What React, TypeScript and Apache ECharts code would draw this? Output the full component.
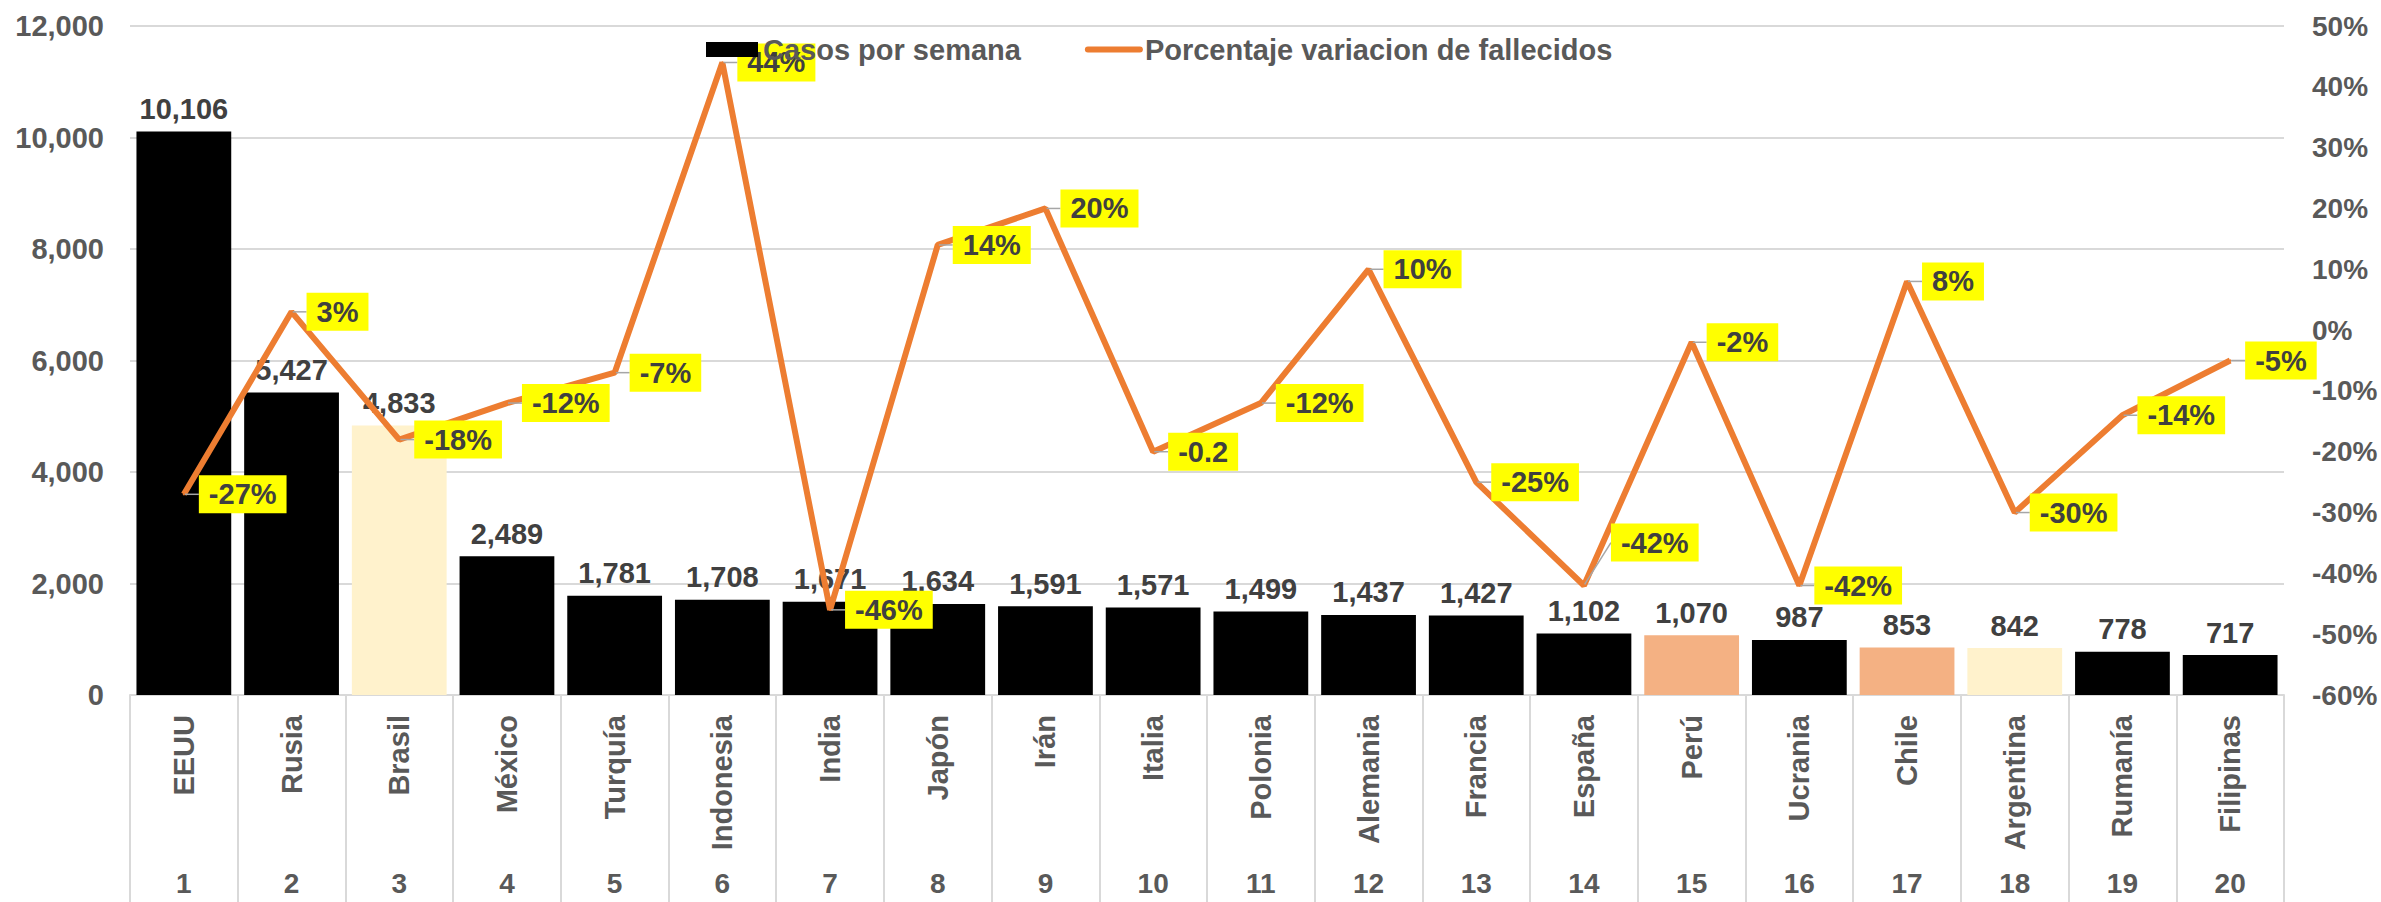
import React, { useEffect, useRef } from "react";
import * as echarts from "echarts";

const countries = ["EEUU", "Rusia", "Brasil", "México", "Turquía", "Indonesia", "India", "Japón", "Irán", "Italia", "Polonia", "Alemania", "Francia", "España", "Perú", "Ucrania", "Chile", "Argentina", "Rumanía", "Filipinas"];
const ranks = ["1", "2", "3", "4", "5", "6", "7", "8", "9", "10", "11", "12", "13", "14", "15", "16", "17", "18", "19", "20"];
const casosPorSemana = [10106, 5427, 4833, 2489, 1781, 1708, 1671, 1634, 1591, 1571, 1499, 1437, 1427, 1102, 1070, 987, 853, 842, 778, 717];
const variacionFallecidos = [-27, 3, -18, -12, -7, 44, -46, 14, 20, -20, -12, 10, -25, -42, -2, -42, 8, -30, -14, -5];
const variacionLabels = ["-27%", "3%", "-18%", "-12%", "-7%", "44%", "-46%", "14%", "20%", "-0.2", "-12%", "10%", "-25%", "-42%", "-2%", "-42%", "8%", "-30%", "-14%", "-5%"];
const creamCountries = ["Brasil", "Argentina"];
const peachCountries = ["Perú", "Chile"];
const leftAxisMin = 0, leftAxisMax = 12000, leftAxisStep = 2000;
const rightAxisMin = -60, rightAxisMax = 50, rightAxisStep = 10;
const movedLabelCountry = "España";

const FONT = "'Liberation Sans', Arial, sans-serif";
const AXIS_COLOR = "#595959";
const LABEL_COLOR = "#404040";
const GRID_COLOR = "#d9d9d9";
const LINE_COLOR = "#ED7D31";

export default function App() {
  const ref = useRef<HTMLDivElement>(null);
  useEffect(() => {
    document.body.style.margin = "0";
    const chart = echarts.init(ref.current!, null, { renderer: "svg" });
    const movedIndex = countries.indexOf(movedLabelCountry);
    chart.setOption({
      animation: false,
      backgroundColor: "#ffffff",
      textStyle: { fontFamily: FONT },
      legend: {
        left: 701,
        top: 30,
        itemWidth: 52,
        itemHeight: 15,
        itemGap: 64,
        textStyle: { fontFamily: FONT, fontSize: 29, fontWeight: "bold", color: AXIS_COLOR },
        data: [
          { name: "Casos por semana", icon: "rect", itemStyle: { color: "#000000" } },
          {
            name: "Porcentaje variacion de fallecidos",
            itemStyle: { opacity: 0 },
            lineStyle: { color: LINE_COLOR, width: 6, cap: "round" },
          },
        ],
      },
      grid: { left: 130, right: 97, top: 26, bottom: 207, containLabel: false },
      xAxis: [
        {
          type: "category",
          data: countries,
          position: "bottom",
          axisLine: { show: true, lineStyle: { color: GRID_COLOR, width: 2 } },
          axisTick: { show: true, interval: 0, length: 215, lineStyle: { color: GRID_COLOR, width: 2 } },
          axisLabel: {
            interval: 0,
            rotate: 90,
            margin: 20,
            fontFamily: FONT,
            fontSize: 29,
            fontWeight: "bold",
            color: AXIS_COLOR,
          },
        },
        {
          type: "category",
          data: ranks,
          position: "bottom",
          offset: 166,
          axisLine: { show: false },
          axisTick: { show: false },
          axisLabel: {
            interval: 0,
            margin: 8,
            fontFamily: FONT,
            fontSize: 28,
            fontWeight: "bold",
            color: AXIS_COLOR,
          },
        },
      ],
      yAxis: [
        {
          type: "value",
          min: leftAxisMin,
          max: leftAxisMax,
          interval: leftAxisStep,
          axisLine: { show: false },
          axisTick: { show: false },
          splitLine: { show: true, lineStyle: { color: GRID_COLOR, width: 2 } },
          axisLabel: {
            margin: 26,
            fontFamily: FONT,
            fontSize: 29,
            fontWeight: "bold",
            color: AXIS_COLOR,
            formatter: (v: number) => v.toLocaleString("en-US"),
          },
        },
        {
          type: "value",
          min: rightAxisMin,
          max: rightAxisMax,
          interval: rightAxisStep,
          position: "right",
          axisLine: { show: false },
          axisTick: { show: false },
          splitLine: { show: false },
          axisLabel: {
            margin: 28,
            fontFamily: FONT,
            fontSize: 28,
            fontWeight: "bold",
            color: AXIS_COLOR,
            formatter: (v: number) => `${v}%`,
          },
        },
      ],
      series: [
        {
          name: "Casos por semana",
          type: "bar",
          xAxisIndex: 0,
          yAxisIndex: 0,
          data: casosPorSemana,
          barCategoryGap: "12%",
          itemStyle: {
            color: (p: any) => {
              const c = countries[p.dataIndex];
              if (creamCountries.includes(c)) return "#FFF2CC";
              if (peachCountries.includes(c)) return "#F4B183";
              return "#000000";
            },
          },
          label: {
            show: true,
            position: "top",
            distance: 8,
            fontFamily: FONT,
            fontSize: 29,
            fontWeight: "bold",
            color: LABEL_COLOR,
            formatter: (p: any) => Number(p.value).toLocaleString("en-US"),
          },
        },
        {
          name: "Porcentaje variacion de fallecidos",
          type: "line",
          xAxisIndex: 0,
          yAxisIndex: 1,
          data: variacionFallecidos,
          symbol: "circle",
          symbolSize: 2,
          showSymbol: true,
          lineStyle: { color: LINE_COLOR, width: 6 },
          itemStyle: { color: LINE_COLOR },
          z: 3,
          label: {
            show: true,
            position: "right",
            distance: 14,
            fontFamily: FONT,
            fontSize: 29,
            fontWeight: "bold",
            color: LABEL_COLOR,
            backgroundColor: "#FFFF00",
            padding: [5, 10, 4, 10],
            formatter: (p: any) => variacionLabels[p.dataIndex],
          },
          labelLine: {
            show: true,
            lineStyle: { color: "#a6a6a6", width: 1.5 },
          },
          labelLayout: (params: any) => {
            if (params.dataIndex === movedIndex) {
              return { dx: 12, dy: -43 };
            }
            return {};
          },
        },
      ],
    });
    return () => chart.dispose();
  }, []);
  return <div ref={ref} style={{ width: 2381, height: 902 }} />;
}
